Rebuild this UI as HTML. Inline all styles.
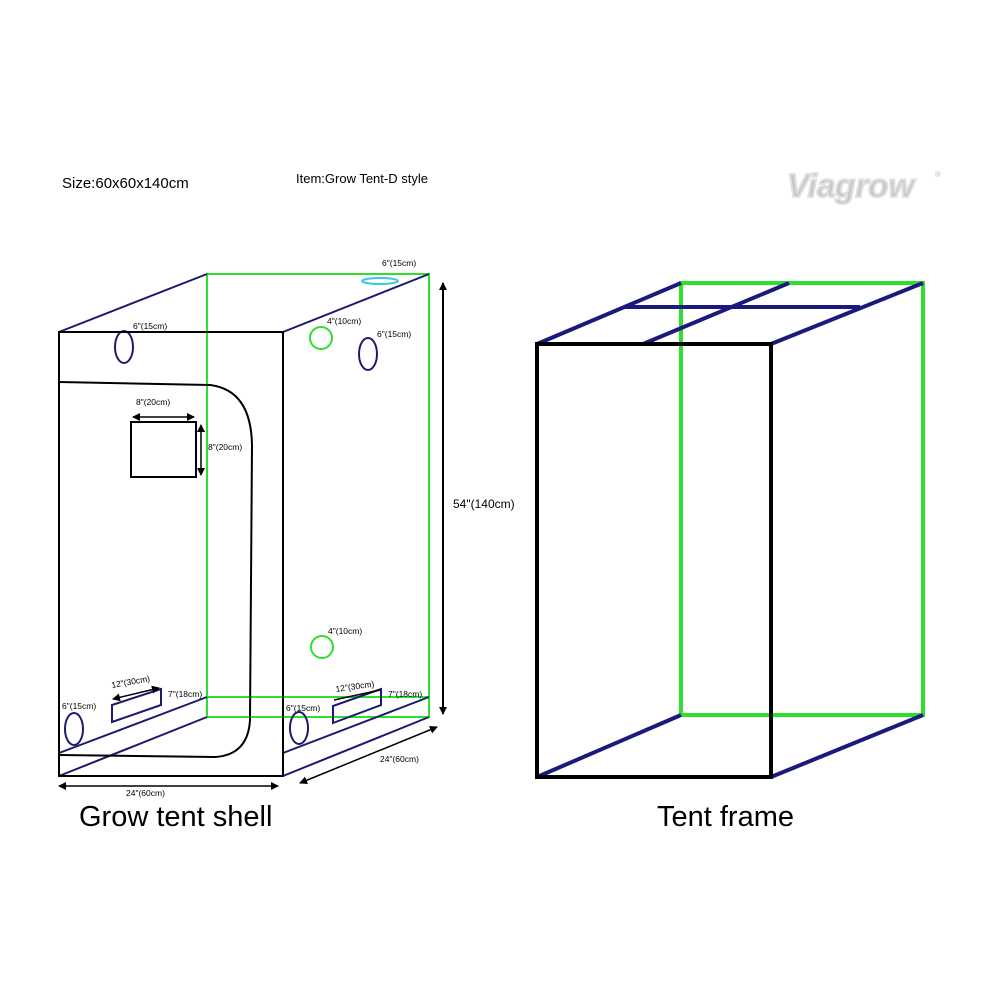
<!DOCTYPE html>
<html><head><style>body{margin:0;background:#fff}svg{display:block}text{font-family:"Liberation Sans",sans-serif}</style></head><body>
<svg width="1000" height="1000" viewBox="0 0 1000 1000">
<defs><marker id="a" markerWidth="8" markerHeight="8" refX="7" refY="4" orient="auto-start-reverse" markerUnits="userSpaceOnUse"><path d="M0,0L8,4L0,8z" fill="#000"/></marker></defs>
<rect width="1000" height="1000" fill="#fff"/>
<text x="62" y="188" font-size="15">Size:60x60x140cm</text>
<text x="296" y="183" font-size="13">Item:Grow Tent-D style</text>
<text x="787" y="197" font-size="33" font-weight="bold" font-style="italic" fill="#c8c8c8" stroke="#e0e0e0" stroke-width="2">Viagrow</text>
<text x="935" y="177" font-size="8" fill="#bbb">®</text>
<g fill="none" stroke-width="2">
<rect x="207" y="274" width="222" height="443" stroke="#2ee02e"/>
<line x1="207" y1="697" x2="429" y2="697" stroke="#2ee02e"/>
<g stroke="#1a1a6e">
<line x1="59" y1="332" x2="207" y2="274"/><line x1="283" y1="332" x2="429" y2="274"/>
<line x1="59" y1="776" x2="207" y2="717"/><line x1="59" y1="753" x2="207" y2="697"/>
<line x1="283" y1="776" x2="429" y2="717"/><line x1="283" y1="753" x2="429" y2="697"/>
<ellipse cx="124" cy="347" rx="9" ry="16"/><ellipse cx="368" cy="354" rx="9" ry="16"/>
<ellipse cx="74" cy="729" rx="9" ry="16"/><ellipse cx="299" cy="728" rx="9" ry="16"/>
<polygon points="112,722 161,705 161,689 112,705"/><polygon points="333,723 381,705 381,689 333,706"/>
</g>
<circle cx="321" cy="338" r="11" stroke="#2ee02e"/><circle cx="322" cy="647" r="11" stroke="#2ee02e"/>
<ellipse cx="380" cy="281" rx="18" ry="3" stroke="#3cc8e0"/>
<g stroke="#000">
<rect x="59" y="332" width="224" height="444"/>
<path d="M59,382 L210,385 Q251,390 252,445 L250,720 Q248,755 215,757 L59,755"/>
<rect x="131" y="422" width="65" height="55"/>
</g>
</g>
<g stroke="#000" stroke-width="1.5" fill="none">
<line x1="133" y1="417" x2="194" y2="417" marker-start="url(#a)" marker-end="url(#a)"/>
<line x1="201" y1="425" x2="201" y2="475" marker-start="url(#a)" marker-end="url(#a)"/>
<line x1="113" y1="699" x2="159" y2="688" marker-start="url(#a)" marker-end="url(#a)"/>
<line x1="334" y1="700" x2="380" y2="690"/>
<line x1="443" y1="283" x2="443" y2="714" stroke-width="2" marker-start="url(#a)" marker-end="url(#a)"/>
<line x1="59" y1="786" x2="278" y2="786" marker-start="url(#a)" marker-end="url(#a)"/>
<line x1="300" y1="783" x2="437" y2="727" marker-start="url(#a)" marker-end="url(#a)"/>
</g>
<g font-size="8.5">
<text x="382" y="266">6"(15cm)</text><text x="133" y="329">6"(15cm)</text>
<text x="327" y="324">4"(10cm)</text><text x="377" y="337">6"(15cm)</text>
<text x="136" y="405">8"(20cm)</text><text x="208" y="450">8"(20cm)</text>
<text x="328" y="634">4"(10cm)</text>
<text x="112" y="688" transform="rotate(-10 112 688)">12"(30cm)</text>
<text x="168" y="697">7"(18cm)</text>
<text x="336" y="692" transform="rotate(-8 336 692)">12"(30cm)</text>
<text x="388" y="697">7"(18cm)</text>
<text x="62" y="709">6"(15cm)</text><text x="286" y="711">6"(15cm)</text>
<text x="380" y="762">24"(60cm)</text><text x="126" y="796">24"(60cm)</text>
</g>
<text x="453" y="508" font-size="12">54"(140cm)</text>
<text x="79" y="826" font-size="29">Grow tent shell</text>
<text x="657" y="826" font-size="29">Tent frame</text>
<g fill="none" stroke-width="4">
<rect x="681" y="283" width="242" height="432" stroke="#2ee02e"/>
<g stroke="#1a1a7e">
<line x1="537" y1="344" x2="681" y2="283"/><line x1="771" y1="344" x2="923" y2="283"/>
<line x1="537" y1="777" x2="681" y2="715"/><line x1="771" y1="777" x2="923" y2="715"/>
<line x1="625" y1="307" x2="860" y2="307"/><line x1="643" y1="344" x2="789" y2="283"/>
</g>
<rect x="537" y="344" width="234" height="433" stroke="#000"/>
</g>
</svg>
</body></html>
